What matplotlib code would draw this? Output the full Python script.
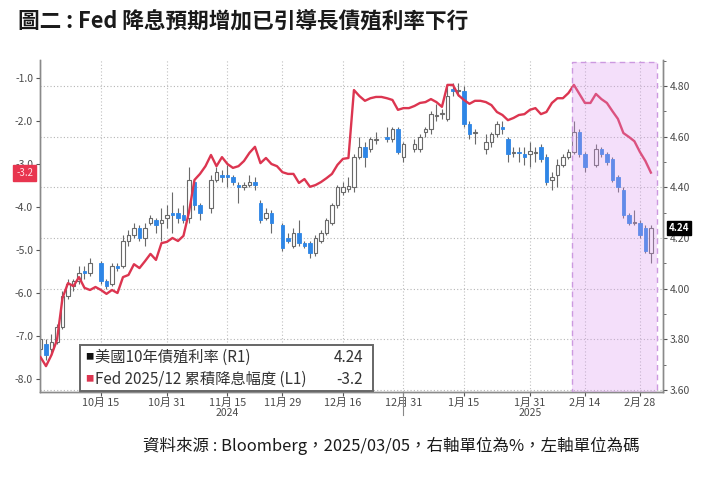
import numpy as np
import pandas as pd
import matplotlib
matplotlib.use('Agg')
import matplotlib.pyplot as plt
from matplotlib.patches import Rectangle
import matplotlib.transforms as mtransforms

plt.rcParams['font.family'] = ['Noto Sans CJK TC', 'DejaVu Sans']

# ---------------- data ----------------
dates = pd.bdate_range('2024-09-30', '2025-03-04')
N = None
opens = [3.76, 3.78, 3.76, 3.79, 3.85, 3.97, 4.01, 4.03, 4.07, 4.06, N,
         4.10, 4.03, 4.02, 4.09, 4.09, 4.19, 4.21, 4.24, 4.20, 4.26, 4.27, 4.26, 4.28,
         4.30, 4.30, 4.29, 4.28, 4.42, 4.33, N, 4.32, 4.43, 4.45, 4.45, 4.44, 4.41, 4.40,
         4.41, 4.42, 4.34, 4.28, 4.30, N, 4.25, 4.20, 4.17, 4.22, 4.18, 4.18, 4.14, 4.19,
         4.22, 4.26, 4.33, 4.38, 4.395, 4.40, 4.52, 4.56, 4.55, 4.585, N, 4.60, 4.59, 4.63,
         4.52, N, 4.55, 4.55, 4.62, 4.63, 4.68, 4.69, 4.67, 4.79, 4.78, 4.78, 4.65, 4.615,
         N, 4.55, 4.58, 4.61, 4.64, 4.59, 4.535, 4.54, 4.53, 4.53, 4.535, 4.56, 4.52, 4.43,
         4.45, 4.49, 4.52, 4.54, 4.62, 4.53, N, 4.49, 4.55, 4.53, 4.51, 4.44, 4.39, 4.29,
         4.26, 4.26, 4.24, 4.14]
highs = [3.82, 3.80, 3.82, 3.86, 3.99, 4.04, 4.04, 4.09, 4.09, 4.12, N,
         4.11, 4.04, 4.10, 4.10, 4.21, 4.23, 4.26, 4.25, 4.26, 4.29, 4.28, 4.32, 4.33,
         4.38, 4.32, 4.33, 4.48, 4.43, 4.34, N, 4.45, 4.48, 4.47, 4.49, 4.45, 4.42, 4.42,
         4.45, 4.44, 4.35, 4.32, 4.31, N, 4.26, 4.22, 4.24, 4.27, 4.19, 4.19, 4.21, 4.23,
         4.28, 4.34, 4.41, 4.42, 4.44, 4.53, 4.60, 4.58, 4.60, 4.62, N, 4.64, 4.64, 4.64,
         4.58, N, 4.59, 4.61, 4.64, 4.70, 4.73, 4.71, 4.80, 4.81, 4.81, 4.80, 4.66, 4.63,
         N, 4.61, 4.62, 4.66, 4.66, 4.60, 4.56, 4.56, 4.56, 4.58, 4.56, 4.57, 4.53, 4.46,
         4.51, 4.53, 4.55, 4.66, 4.63, 4.54, N, 4.57, 4.56, 4.54, 4.52, 4.45, 4.40, 4.30,
         4.31, 4.27, 4.25, 4.25]
lows = [3.74, 3.72, 3.74, 3.78, 3.84, 3.96, 3.99, 4.02, 4.04, 4.05, N,
        4.02, 4.00, 4.01, 4.07, 4.08, 4.17, 4.20, 4.19, 4.17, 4.25, 4.22, 4.19, 4.24,
        4.22, 4.26, 4.26, 4.26, 4.31, 4.27, N, 4.30, 4.42, 4.42, 4.40, 4.41, 4.34, 4.39,
        4.40, 4.39, 4.26, 4.27, 4.22, N, 4.15, 4.18, 4.16, 4.17, 4.16, 4.12, 4.13, 4.18,
        4.21, 4.25, 4.32, 4.37, 4.38, 4.38, 4.51, 4.48, 4.54, 4.57, N, 4.58, 4.58, 4.53,
        4.50, N, 4.54, 4.54, 4.60, 4.61, 4.66, 4.67, 4.66, 4.76, 4.76, 4.64, 4.59, 4.57,
        N, 4.53, 4.56, 4.60, 4.61, 4.50, 4.52, 4.50, 4.49, 4.48, 4.50, 4.50, 4.41, 4.39,
        4.40, 4.48, 4.51, 4.53, 4.52, 4.46, N, 4.48, 4.52, 4.49, 4.42, 4.38, 4.28, 4.25,
        4.25, 4.20, 4.14, 4.10]
closes = [3.80, 3.74, 3.79, 3.85, 3.97, 4.02, 4.03, 4.06, 4.06, 4.10, N,
          4.03, 4.01, 4.09, 4.08, 4.19, 4.21, 4.24, 4.20, 4.24, 4.28, 4.25, 4.27, 4.29,
          4.29, 4.28, 4.27, 4.43, 4.33, 4.30, N, 4.43, 4.46, 4.44, 4.44, 4.42, 4.40, 4.41,
          4.42, 4.41, 4.27, 4.30, 4.26, N, 4.16, 4.19, 4.22, 4.18, 4.17, 4.14, 4.20, 4.22,
          4.27, 4.33, 4.40, 4.40, 4.405, 4.52, 4.56, 4.52, 4.59, 4.59, N, 4.59, 4.63, 4.54,
          4.57, N, 4.57, 4.60, 4.63, 4.69, 4.685, 4.695, 4.76, 4.78, 4.785, 4.65, 4.61, 4.62,
          N, 4.58, 4.61, 4.65, 4.63, 4.53, 4.54, 4.535, 4.52, 4.545, 4.54, 4.51, 4.42, 4.44,
          4.49, 4.52, 4.54, 4.62, 4.53, 4.48, N, 4.55, 4.53, 4.50, 4.43, 4.40, 4.29, 4.26,
          4.265, 4.21, 4.15, 4.24]
fed_cuts = [-7.49, -7.70, -7.44, -7.09, -6.12, -5.77, -5.84, -5.63, -5.88, -5.93, -5.86,
            -5.93, -6.02, -5.93, -6.00, -5.63, -5.58, -5.33, -5.42, -5.26, -5.09, -5.23,
            -4.84, -4.81, -4.72, -4.79, -4.67, -4.12, -3.37, -3.23, -3.05, -2.79, -3.05,
            -2.84, -3.00, -3.09, -3.05, -2.93, -2.74, -2.60, -2.98, -2.86, -3.00, -3.05,
            -3.19, -3.23, -3.23, -3.44, -3.35, -3.53, -3.49, -3.42, -3.33, -3.23, -3.02,
            -2.88, -2.86, -1.28, -1.42, -1.53, -1.47, -1.44, -1.44, -1.47, -1.51, -1.74,
            -1.70, -1.70, -1.65, -1.58, -1.56, -1.49, -1.56, -1.67, -1.16, -1.16, -1.40,
            -1.51, -1.60, -1.53, -1.53, -1.56, -1.63, -1.79, -1.86, -1.98, -1.93, -1.86,
            -1.84, -1.74, -1.70, -1.84, -1.79, -1.58, -1.47, -1.47, -1.35, -1.16, -1.37,
            -1.58, -1.58, -1.37, -1.49, -1.58, -1.77, -1.95, -2.28, -2.37, -2.47, -2.72,
            -2.93, -3.20]
tick_dates = ['2024-10-15', '2024-10-31', '2024-11-15', '2024-11-29', '2024-12-16',
              '2024-12-31', '2025-01-15', '2025-01-31', '2025-02-14', '2025-02-28']
tick_labels = ['10月 15', '10月 31', '11月 15', '11月 29', '12月 16',
               '12月 31', '1月 15', '1月 31', '2月 14', '2月 28']
year_labels = [('2024-11-15', '2024'), ('2025-01-31', '2025')]
shade_dates = ('2025-02-12', '2025-03-04')
legend_rows = [('美國10年債殖利率 (R1)', '4.24'), ('Fed 2025/12 累積降息幅度 (L1)', '-3.2')]
last_yield = 4.24
last_cut = -3.2

# ---------------- figure ----------------
W, H = 725, 482
fig = plt.figure(figsize=(W / 100, H / 100), dpi=100)
ax = fig.add_axes([40 / W, 1 - 392 / H, 623 / W, 332 / H])
ax2 = ax.twinx()

idx = {d.strftime('%Y-%m-%d'): i for i, d in enumerate(dates)}
xs = np.arange(len(dates))

BLUE = '#2e86e6'
RED = '#dc3550'
EDGE = '#6a6a6a'

# candles on ax (right side scale)
for i in xs:
    o, h, l, c = opens[i], highs[i], lows[i], closes[i]
    if o is None:
        continue
    ax.vlines(i, l, h, color=EDGE, lw=0.8, zorder=3)
    bottom = min(o, c)
    height = max(abs(c - o), 0.004)
    if c >= o:
        ax.bar(i, height, bottom=bottom, width=0.68, facecolor='white',
               edgecolor=EDGE, lw=0.8, zorder=4)
    else:
        ax.bar(i, height, bottom=bottom, width=0.68, facecolor=BLUE,
               edgecolor=BLUE, lw=0.6, zorder=4)

# red line on ax2 (left side scale)
ax2.plot(xs, fed_cuts, color=RED, lw=1.7, zorder=5, solid_joinstyle='round')

ax.set_xlim(-0.09, 113.2)
ax.set_ylim(3.592, 4.9026)
ax2.set_ylim(-8.302, -0.581)

ax.yaxis.tick_right()
ax.yaxis.set_label_position('right')
ax2.yaxis.tick_left()
ax2.yaxis.set_label_position('left')

rt = [3.60, 3.80, 4.00, 4.20, 4.40, 4.60, 4.80]
ax.set_yticks(rt)
ax.set_yticklabels([f'{v:.2f}' for v in rt])
ax.set_yticks(np.arange(3.7, 4.9, 0.2), minor=True)
lt = [-8.0, -7.0, -6.0, -5.0, -4.0, -3.0, -2.0, -1.0]
ax2.set_yticks(lt)
ax2.set_yticklabels([f'{v:.1f}' for v in lt])

for a in (ax, ax2):
    for s in a.spines.values():
        s.set_color('#8a8a8a')
        s.set_linewidth(1.0)
    a.spines['top'].set_visible(False)

ax.tick_params(axis='y', which='major', labelsize=7.5, colors='#555555', length=3,
               pad=2, labelcolor='#4a4a4a')
ax.tick_params(axis='y', which='minor', length=2, colors='#555555')
ax2.tick_params(axis='y', which='major', labelsize=7.5, colors='#555555', length=3,
                pad=2, labelcolor='#4a4a4a')

tpos = [idx[d] for d in tick_dates]
ax.set_xticks(tpos)
ax.set_xticklabels(tick_labels)
ax.tick_params(axis='x', labelsize=7.8, colors='#555555', length=3, pad=1,
               labelcolor='#4a4a4a')

# grid
for v in rt:
    ax.axhline(v, color='#b5b5b5', lw=0.8, ls=(0, (1, 2)), zorder=1)
for p in tpos:
    ax.axvline(p, color='#c0c0c0', lw=0.8, ls=(0, (1, 2)), zorder=1)

trans = mtransforms.blended_transform_factory(ax.transData, ax.transAxes)
for d, lab in year_labels:
    ax.text(idx[d], -0.062, lab, transform=trans, ha='center', va='center',
            fontsize=7.5, color='#4a4a4a')
ax.plot([idx['2024-12-31']] * 2, [0, -0.07], transform=trans, color='#888888',
        lw=0.8, clip_on=False)

# shaded period
s0 = idx[shade_dates[0]] - 0.4
s1 = idx[shade_dates[1]] + 1.1
ax2.add_patch(Rectangle((s0, 0.0), s1 - s0, 0.994, transform=trans,
                        facecolor='#db98f0', alpha=0.3, edgecolor='none', zorder=6))
ax2.add_patch(Rectangle((s0, 0.0), s1 - s0, 0.994, transform=trans,
                        facecolor='none', edgecolor='#cc99e0', lw=1.0,
                        ls=(0, (4, 3)), zorder=7))

# legend box (manual)
lx0, ly0, lx1, ly1 = 80, 345, 373, 391
fig.patches.append(Rectangle((lx0 / W, 1 - ly1 / H), (lx1 - lx0) / W, (ly1 - ly0) / H,
                             transform=fig.transFigure, facecolor='white',
                             edgecolor='#666666', lw=1.4, zorder=20))
row_y = [357, 379]
sq_cols = ['#111111', RED]
for (lab, val), ry, sc in zip(legend_rows, row_y, sq_cols):
    fig.text(85 / W, 1 - ry / H, '■', color=sc, fontsize=6, ha='left', va='center',
             zorder=21)
    fig.text(95 / W, 1 - ry / H, lab, color='#333333', fontsize=11, ha='left',
             va='center', zorder=21)
    fig.text(363 / W, 1 - ry / H, val, color='#333333', fontsize=11, ha='right',
             va='center', zorder=21)

# value tags on the axes
ax.annotate(f'{last_yield:.2f}', xy=(1.0, last_yield),
            xycoords=mtransforms.blended_transform_factory(ax.transAxes, ax.transData),
            xytext=(4, 0), textcoords='offset points', ha='left', va='center',
            fontsize=7, color='white', fontweight='bold',
            bbox=dict(boxstyle='square,pad=0.18', fc='black', ec='black'), zorder=30)
ax2.annotate(f'{last_cut:.1f}', xy=(0.0, last_cut),
             xycoords=mtransforms.blended_transform_factory(ax2.transAxes, ax2.transData),
             xytext=(-5, 0), textcoords='offset points', ha='right', va='center',
             fontsize=7, color='#ffe0e6',
             bbox=dict(boxstyle='square,pad=0.3', fc='#e8354f', ec='#e8354f'), zorder=30)

# titles
fig.text(18 / W, 1 - 21 / H, '圖二 : Fed 降息預期增加已引導長債殖利率下行', fontsize=15.6,
         fontweight='bold', color='#1a1a1a', ha='left', va='center')
fig.text(143 / W, 1 - 446 / H, '資料來源 : Bloomberg，2025/03/05，右軸單位為%，左軸單位為碼',
         fontsize=11.9, color='#1a1a1a', ha='left', va='center')

fig.savefig('out.png', dpi=100, facecolor='white')
